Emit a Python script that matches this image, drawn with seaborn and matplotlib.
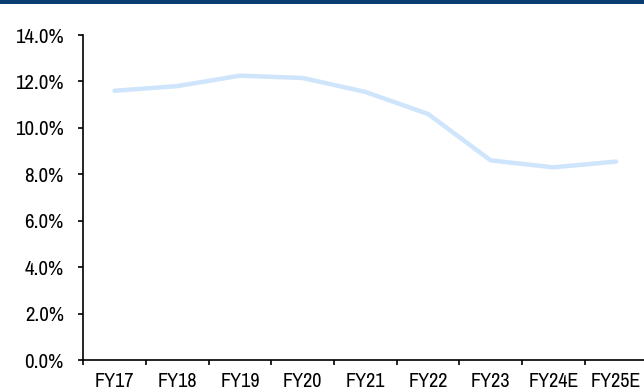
import numpy as np
import pandas as pd
import seaborn as sns
import matplotlib
matplotlib.use("Agg")
import matplotlib.pyplot as plt
from matplotlib.patches import Rectangle
from matplotlib.ticker import FuncFormatter, FixedLocator

categories = ["FY17", "FY18", "FY19", "FY20", "FY21", "FY22", "FY23", "FY24E", "FY25E"]
values = [11.6, 11.8, 12.25, 12.15, 11.55, 10.6, 8.6, 8.3, 8.55]
y_ticks = [0, 2, 4, 6, 8, 10, 12, 14]

sns.set_theme(style="white")
plt.rcParams['font.family'] = ['Archivo Narrow', 'DejaVu Sans']

df = pd.DataFrame({"year": categories, "value": values})

fig = plt.figure(figsize=(6.44, 3.92), dpi=100)
ax = fig.add_axes([0.1293, 0.0816, 0.876, 0.829])

sns.lineplot(data=df, x="year", y="value", ax=ax, color="#cfe5fb", linewidth=3.2,
             sort=False, solid_capstyle="round")

ax.set_xlim(-0.5, len(categories) - 0.5)
ax.set_ylim(0, 14)
ax.set_yticks(y_ticks)
ax.yaxis.set_major_formatter(FuncFormatter(lambda v, p: f"{v:.1f}%"))

ax.xaxis.set_major_locator(FixedLocator(np.arange(-0.5, len(categories), 1.0)))
ax.xaxis.set_minor_locator(FixedLocator(np.arange(len(categories))))
ax.set_xticklabels([])
ax.set_xticklabels(categories, minor=True)
ax.tick_params(axis="x", which="major", direction="out", length=3.5, width=1.2, color="black", bottom=True)
ax.tick_params(axis="x", which="minor", length=0, pad=8.5, labelsize=14.5, labelcolor="black", bottom=True)
ax.tick_params(axis="y", which="major", direction="out", length=3.5, width=1.2, color="black",
               pad=10.5, labelsize=15, labelcolor="black", left=True)

ax.set_xlabel("")
ax.set_ylabel("")
for s in ["top", "right"]:
    ax.spines[s].set_visible(False)
for s in ["left", "bottom"]:
    ax.spines[s].set_color("black")
    ax.spines[s].set_linewidth(1.2)

fig.patches.append(Rectangle((0, 1 - 4 / 392), 1, 4 / 392, transform=fig.transFigure,
                             facecolor="#0a3d70", edgecolor="none", zorder=10))

fig.savefig("out.png", dpi=100)
